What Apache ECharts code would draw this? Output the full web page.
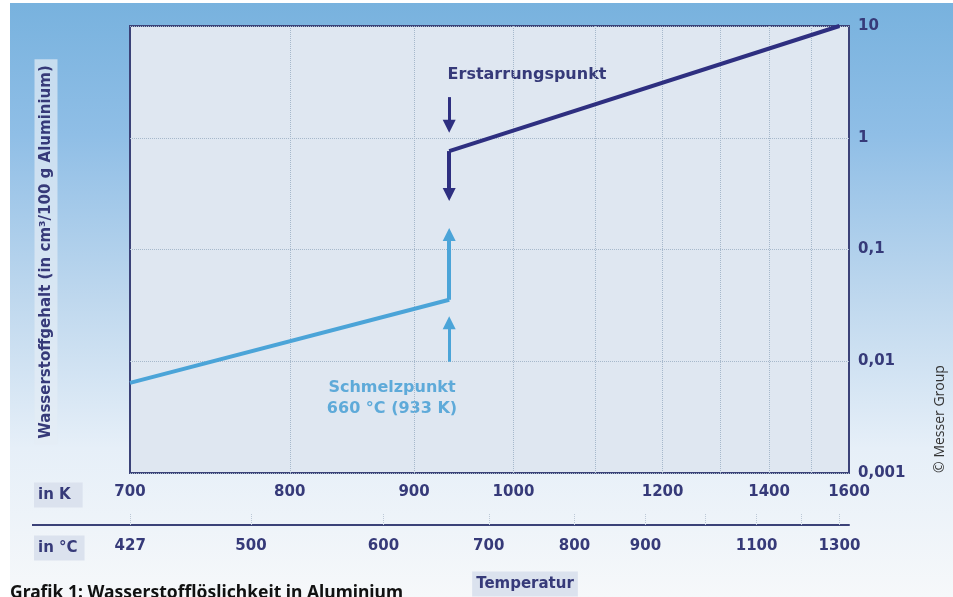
<!DOCTYPE html>
<html>
<head>
<meta charset="utf-8">
<script src="https://cdn.jsdelivr.net/npm/echarts@6/dist/echarts.min.js"></script>
<style>
  html, body { margin: 0; padding: 0; background: #fff; }
  #chart {
    width: 953px; height: 597px;
    background: linear-gradient(180deg, #78b2de 0%, #8fbee6 22%, #bfd8ee 50%, #e6eff8 75%, #f6f8fa 100%) 10px 3px / 943px 594px no-repeat, #fff;
  }
</style>
</head>
<body>
<div id="chart"></div>
<script>
// Temperatur in K, Wasserstoffgehalt in cm³/100 g Aluminium
var solidT = [700, 933];
var solidH = [0.0064, 0.0355];
var liquidT = [933, 1573];
var liquidH = [0.76, 10];
var meltT = 933;
var meltJumpH = [0.0355, 0.136];
var freezeJumpH = [0.76, 0.31];
var meltHintH = [0.0099, 0.0221];
var freezeHintH = [2.31, 1.27];
var kelvinLabels = [700, 800, 900, 1000, 1200, 1400, 1600];
var kelvinGrid = [800, 900, 1000, 1100, 1200, 1300, 1400, 1500];
var celsiusTicks = [427, 500, 600, 700, 800, 900, 1000, 1100, 1200, 1300];
var celsiusLabels = [427, 500, 600, 700, 800, 900, 1100, 1300];

// Achse ist linear in 1/T
function inv(t) { return 1000 / t; }
function fromC(c) { return inv(c + 273.15); }
function pts(ts, hs) { return ts.map(function (t, i) { return [inv(t), hs[i]]; }); }
function seg(t, hs, w) { return { coords: [[inv(t), hs[0]], [inv(t), hs[1]]], lineStyle: { width: w } }; }

var navy = '#2e2f80';
var sky = '#4ba4d8';
var ink = '#363a79';
var font = 'DejaVu Sans';

var myChart = echarts.init(document.getElementById('chart'));

var option = {
  animation: false,
  grid: {
    left: 130, right: 104, top: 26, bottom: 124,
    show: true,
    backgroundColor: '#dfe7f1',
    borderColor: '#3b4278',
    borderWidth: 2
  },
  xAxis: [{
    type: 'value',
    inverse: true,
    min: inv(1600),
    max: inv(700),
    axisLine: { show: false },
    axisTick: { show: false, customValues: kelvinGrid.map(inv) },
    splitLine: { show: true, lineStyle: { type: 'dotted', color: '#a6b8cb', width: 1 } },
    axisLabel: {
      customValues: kelvinLabels.map(inv),
      formatter: function (v) { return Math.round(1000 / v); },
      margin: 12, color: ink, fontFamily: font, fontWeight: 'bold', fontSize: 15
    }
  }, {
    type: 'value',
    inverse: true,
    min: inv(1600),
    max: inv(700),
    position: 'bottom',
    offset: 52,
    axisLine: { show: true, lineStyle: { color: '#3b4278', width: 2 } },
    axisTick: {
      show: true, inside: true, length: 12,
      customValues: celsiusTicks.map(fromC),
      lineStyle: { color: '#bcc8d6', type: 'dotted' }
    },
    splitLine: { show: false },
    axisLabel: {
      customValues: celsiusLabels.map(fromC),
      formatter: function (v) { return Math.round(1000 / v - 273.15); },
      margin: 14, color: ink, fontFamily: font, fontWeight: 'bold', fontSize: 15
    }
  }],
  yAxis: {
    type: 'log',
    logBase: 10,
    position: 'right',
    min: 0.001,
    max: 10,
    axisLine: { show: false },
    axisTick: { show: false },
    splitLine: { show: true, lineStyle: { type: 'dotted', color: '#a6b8cb', width: 1 } },
    axisLabel: {
      formatter: function (v) { return String(+v.toPrecision(2)).replace('.', ','); },
      margin: 9, color: ink, fontFamily: font, fontWeight: 'bold', fontSize: 15
    }
  },
  series: [
    {
      name: 'fest',
      type: 'line',
      data: pts(solidT, solidH),
      showSymbol: false,
      lineStyle: { color: sky, width: 4 }
    },
    {
      name: 'flüssig',
      type: 'line',
      data: pts(liquidT, liquidH),
      showSymbol: false,
      lineStyle: { color: navy, width: 4 }
    },
    {
      name: 'Schmelzen',
      type: 'lines',
      coordinateSystem: 'cartesian2d',
      symbol: ['none', 'triangle'],
      symbolSize: [12, 13],
      lineStyle: { color: sky, width: 4, opacity: 1 },
      data: [seg(meltT, meltJumpH, 4), seg(meltT, meltHintH, 3)]
    },
    {
      name: 'Erstarren',
      type: 'lines',
      coordinateSystem: 'cartesian2d',
      symbol: ['none', 'triangle'],
      symbolSize: [12, 13],
      lineStyle: { color: navy, width: 4, opacity: 1 },
      data: [seg(meltT, freezeJumpH, 4), seg(meltT, freezeHintH, 3)]
    }
  ],
  graphic: [
    { type: 'text', x: 527, y: 75, style: { text: 'Erstarrungspunkt', fill: ink, font: 'bold 16px "DejaVu Sans"', align: 'center', verticalAlign: 'middle' } },
    { type: 'text', x: 392, y: 398, style: { text: 'Schmelzpunkt\n660 °C (933 K)', fill: '#5eaad9', font: 'bold 16px "DejaVu Sans"', align: 'center', verticalAlign: 'middle', lineHeight: 21 } },
    { type: 'text', x: 46, y: 252, rotation: Math.PI / 2, style: { text: 'Wasserstoffgehalt (in cm³/100 g Aluminium)', fill: ink, font: 'bold 15px "DejaVu Sans"', align: 'center', verticalAlign: 'middle', backgroundColor: 'rgba(228,236,245,0.7)', padding: [4, 6, 4, 6] } },
    { type: 'text', x: 34, y: 495, style: { text: 'in K', fill: ink, font: 'bold 15px "DejaVu Sans"', align: 'left', verticalAlign: 'middle', backgroundColor: '#dbe2ee', padding: [5, 12, 5, 4] } },
    { type: 'text', x: 34, y: 548, style: { text: 'in °C', fill: ink, font: 'bold 15px "DejaVu Sans"', align: 'left', verticalAlign: 'middle', backgroundColor: '#dbe2ee', padding: [5, 7, 5, 4] } },
    { type: 'text', x: 525, y: 584, style: { text: 'Temperatur', fill: ink, font: 'bold 15px "DejaVu Sans"', align: 'center', verticalAlign: 'middle', backgroundColor: '#dbe2ee', padding: [5, 4, 5, 4] } },
    { type: 'text', x: 10, y: 584, style: { text: 'Grafik 1: Wasserstofflöslichkeit in Aluminium', fill: '#111', font: 'bold 17.5px "Noto Sans"', align: 'left', verticalAlign: 'top' } },
    { type: 'text', x: 940, y: 419, rotation: Math.PI / 2, style: { text: '© Messer Group', fill: '#333', font: '14px "Open Sans"', align: 'center', verticalAlign: 'middle' } },
    { type: 'line', shape: { x1: 32, y1: 525, x2: 131, y2: 525 }, style: { stroke: '#3b4278', lineWidth: 2 } }
  ]
};

myChart.setOption(option);
window.onresize = myChart.resize;
</script>
</body>
</html>
